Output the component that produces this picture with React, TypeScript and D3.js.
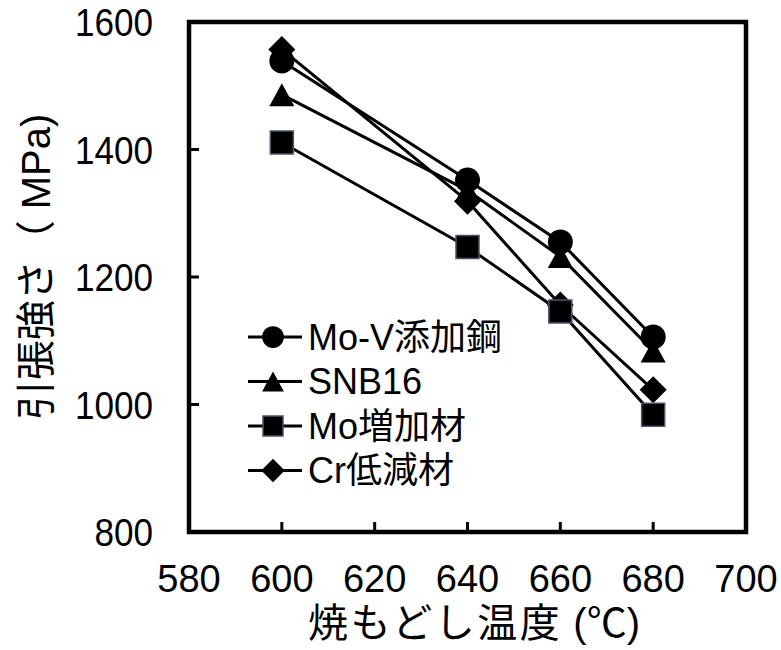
import React, { useEffect, useRef } from "react";
import * as d3 from "d3";

const WIDTH = 781;
const HEIGHT = 650;

const temps = [600, 640, 660, 680];
const seriesNames = ["Mo-V添加鋼", "SNB16", "Mo増加材", "Cr低減材"];
const symbols = ["circle", "triangle", "square", "diamond"];
const moV = [1539, 1352, 1255, 1106];
const snb16 = [1486, 1336, 1232, 1084];
const moInc = [1411, 1247, 1146, 984];
const crLow = [1557, 1319, 1156, 1023];
const xTicks = [580, 600, 620, 640, 660, 680, 700];
const yTicks = [800, 1000, 1200, 1400, 1600];

const FONT = "'Liberation Sans', Arial, 'Noto Sans CJK JP', sans-serif";

// marker outlines, centred on their bounding box
function markerPath(s: string, k: number) {
  const p = d3.path();
  if (s === "circle") {
    p.arc(0, 0, 12.5 * k, 0, Math.PI * 2);
  } else if (s === "triangle") {
    const w = 12.5 * k, h = 11.5 * k;
    p.moveTo(0, -h);
    p.lineTo(w, h);
    p.lineTo(-w, h);
  } else if (s === "square") {
    const a = 11.5 * k;
    p.rect(-a, -a, 2 * a, 2 * a);
  } else {
    const a = 13.5 * k;
    p.moveTo(0, -a);
    p.lineTo(a, 0);
    p.lineTo(0, a);
    p.lineTo(-a, 0);
  }
  p.closePath();
  return p.toString();
}

export default function App() {
  const ref = useRef<SVGSVGElement>(null);

  useEffect(() => {
    const margin = { top: 22, right: 35, bottom: 118, left: 189 };
    const width = WIDTH - margin.left - margin.right;
    const height = HEIGHT - margin.top - margin.bottom;

    const svg = d3.select(ref.current);
    svg.selectAll("*").remove();
    const g = svg
      .append("g")
      .attr("transform", `translate(${margin.left},${margin.top})`);

    const x = d3.scaleLinear().domain([580, 700]).range([0, width]);
    const y = d3.scaleLinear().domain([800, 1600]).range([height, 0]);

    const values = [moV, snb16, moInc, crLow];
    const series = seriesNames.map((name, i) => ({
      name,
      symbol: symbols[i],
      points: temps.map((t, j) => ({ t, v: values[i][j] })),
    }));

    // frame
    g.append("rect")
      .attr("width", width)
      .attr("height", height)
      .attr("fill", "none")
      .attr("stroke", "#000")
      .attr("stroke-width", 4.5);

    // inner ticks
    g.selectAll(".xt")
      .data(xTicks.slice(1, -1))
      .join("line")
      .attr("x1", (d) => x(d))
      .attr("x2", (d) => x(d))
      .attr("y1", height)
      .attr("y2", height - 10)
      .attr("stroke", "#000")
      .attr("stroke-width", 3);
    g.selectAll(".yt")
      .data(yTicks.slice(1, -1))
      .join("line")
      .attr("x1", 0)
      .attr("x2", 10)
      .attr("y1", (d) => y(d))
      .attr("y2", (d) => y(d))
      .attr("stroke", "#000")
      .attr("stroke-width", 3);

    // tick labels
    g.selectAll(".xl")
      .data(xTicks)
      .join("text")
      .attr("x", (d) => x(d))
      .attr("y", height + 60)
      .attr("text-anchor", "middle")
      .attr("font-family", FONT)
      .attr("font-size", 38)
      .text((d) => d);
    g.selectAll(".yl")
      .data(yTicks)
      .join("text")
      .attr("transform", (d) => `translate(-36,${y(d)}) scale(0.9,1)`)
      .attr("dy", "0.36em")
      .attr("text-anchor", "end")
      .attr("font-family", FONT)
      .attr("font-size", 39)
      .text((d) => d);

    // axis titles
    const xt = g.append("text")
      .attr("x", 308 - margin.left)
      .attr("y", height + 105)
      .attr("font-family", FONT)
      .attr("font-size", 40);
    xt.append("tspan").attr("letter-spacing", 2.5).text("焼もどし温度");
    xt.append("tspan").text(" (℃)");

    g.append("text")
      .attr("transform", `translate(${50 - margin.left},${height / 2 - 10}) rotate(-90)`)
      .attr("text-anchor", "middle")
      .attr("font-family", FONT)
      .attr("font-size", 40)
      .text("引張強さ（ MPa)");

    const marker = (sel: any, s: string, k: number) =>
      sel
        .attr("d", markerPath(s, k))
        .attr("fill", "#000")
        .attr("stroke", s === "square" ? "#4a5668" : "none")
        .attr("stroke-width", 1.5);

    const line = d3
      .line<{ t: number; v: number }>()
      .x((d) => x(d.t))
      .y((d) => y(d.v));

    // draw from last series to first so earlier series sit on top
    const order = series.slice().reverse();
    order.forEach((s) => {
      g.append("path")
        .datum(s.points)
        .attr("fill", "none")
        .attr("stroke", "#000")
        .attr("stroke-width", 3)
        .attr("d", line);
    });
    order.forEach((s) => {
      g.selectAll(null)
        .data(s.points)
        .join("path")
        .attr("transform", (d) => `translate(${x(d.t)},${y(d.v)})`)
        .call(marker, s.symbol, 1);
    });

    // legend
    const legend = g.append("g").attr("transform", "translate(59,315)");
    series.forEach((s, i) => {
      const row = legend.append("g").attr("transform", `translate(0,${i * 44.5})`);
      row.append("line")
        .attr("x1", 0)
        .attr("x2", 54)
        .attr("stroke", "#000")
        .attr("stroke-width", 3);
      row.append("path").attr("transform", "translate(25,0)").call(marker, s.symbol, 0.87);
      row.append("text")
        .attr("x", 60)
        .attr("dy", "0.36em")
        .attr("font-family", FONT)
        .attr("font-size", 36)
        .text(s.name);
    });
  }, []);

  return (
    <svg
      ref={ref}
      width={WIDTH}
      height={HEIGHT}
      style={{ position: "absolute", left: 0, top: 0, background: "#fff" }}
    />
  );
}
